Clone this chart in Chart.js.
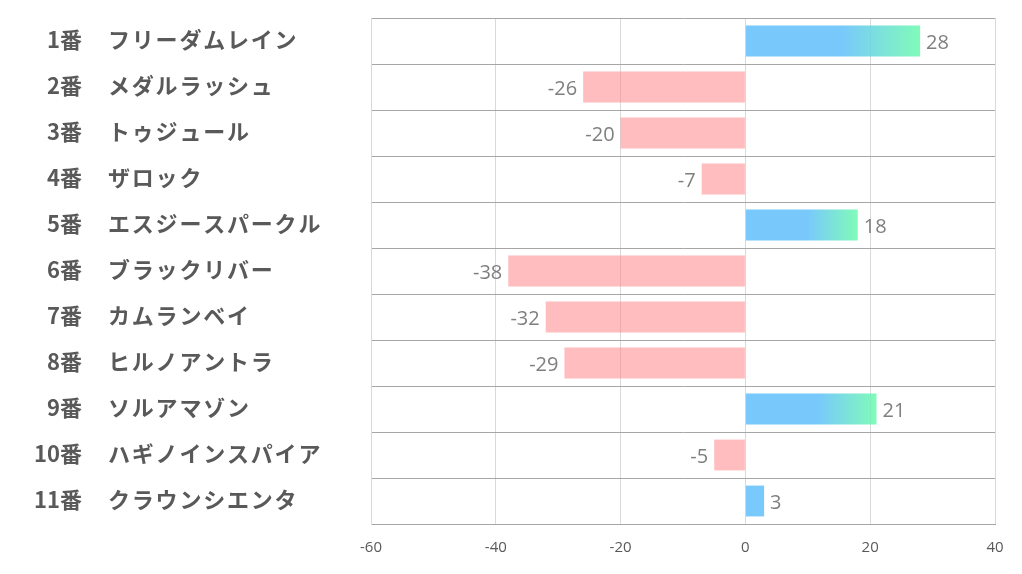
<!DOCTYPE html>
<html>
<head>
<meta charset="utf-8">
<script src="https://cdn.jsdelivr.net/npm/chart.js@4"></script>
<style>
  html, body { margin: 0; padding: 0; background: #fff; }
  #wrap { width: 1022px; height: 574px; position: relative; }
</style>
</head>
<body>
<div id="wrap"><canvas id="grafico"></canvas></div>
<script>
// 馬番と馬名
const numeros = ['1番', '2番', '3番', '4番', '5番', '6番', '7番', '8番', '9番', '10番', '11番'];
const nomes = ['フリーダムレイン', 'メダルラッシュ', 'トゥジュール', 'ザロック', 'エスジースパークル',
  'ブラックリバー', 'カムランベイ', 'ヒルノアントラ', 'ソルアマゾン', 'ハギノインスパイア', 'クラウンシエンタ'];
// 値
const valores = [28, -26, -20, -7, 18, -38, -32, -29, 21, -5, 3];
// 目盛り
const eixoMin = -60;
const eixoMax = 40;
const passo = 20;

const corTexto = '#595959';
const corValor = '#7f7f7f';

// 左側のラベル（番号は右寄せ、馬名は左寄せ）
const rotulosPlugin = {
  id: 'rotulos',
  afterDraw(chart) {
    const c = chart.ctx;
    const y = chart.scales.y;
    c.save();
    c.fillStyle = corTexto;
    c.font = 'bold 22px "Noto Sans CJK JP", sans-serif';
    c.textBaseline = 'middle';
    numeros.forEach((n, i) => {
      const py = y.getPixelForValue(i) - 1;
      c.letterSpacing = '0px';
      c.textAlign = 'right';
      c.fillText(n, 82, py);
      c.letterSpacing = '1.8px';
      c.textAlign = 'left';
      c.fillText(nomes[i], 108, py);
    });
    c.restore();
  },
  afterDatasetsDraw(chart) {
    // 値ラベル
    const c = chart.ctx;
    const meta = chart.getDatasetMeta(0);
    c.save();
    c.fillStyle = corValor;
    c.font = '20px "Open Sans", sans-serif';
    c.textBaseline = 'middle';
    meta.data.forEach((bar, i) => {
      const v = valores[i];
      if (v >= 0) {
        c.textAlign = 'left';
        c.fillText(String(v), bar.x + 6, bar.y + 2);
      } else {
        c.textAlign = 'right';
        c.fillText(String(v), bar.x - 6, bar.y + 2);
      }
    });
    c.restore();
  }
};

function corBarra(context) {
  const chart = context.chart;
  const v = valores[context.dataIndex];
  if (v < 0) return 'rgba(255,128,132,0.52)';
  const x = chart.scales.x;
  if (!x || !chart.chartArea) return 'rgba(97,191,251,0.85)';
  const x0 = x.getPixelForValue(0);
  const x1 = x.getPixelForValue(v);
  // 短いバーは単色
  if (x1 - x0 < 40) return 'rgba(97,191,251,0.85)';
  const g = chart.ctx.createLinearGradient(x0, 0, x1, 0);
  g.addColorStop(0, 'rgba(97,191,251,0.85)');
  g.addColorStop(0.55, 'rgba(97,191,251,0.85)');
  g.addColorStop(1, 'rgba(106,250,173,0.85)');
  return g;
}

const ctx = document.getElementById('grafico');

new Chart(ctx, {
  type: 'bar',
  data: {
    labels: nomes,
    datasets: [{
      data: valores,
      backgroundColor: corBarra,
      borderWidth: 0,
      barPercentage: 0.67,
      categoryPercentage: 1
    }]
  },
  options: {
    indexAxis: 'y',
    responsive: true,
    maintainAspectRatio: false,
    animation: false,
    events: [],
    layout: { padding: { top: 18, right: 27, left: 0, bottom: 0 } },
    plugins: {
      legend: { display: false },
      tooltip: { enabled: false }
    },
    scales: {
      x: {
        min: eixoMin,
        max: eixoMax,
        ticks: {
          stepSize: passo,
          color: corTexto,
          font: { family: '"Open Sans", sans-serif', size: 15 },
          padding: 15
        },
        grid: { color: '#d9d9d9', drawTicks: false },
        border: { color: '#a6a6a6' },
        afterFit(scale) { scale.height = 50; }
      },
      y: {
        ticks: { display: false },
        grid: { color: '#a6a6a6', drawTicks: false, offset: true },
        border: { color: '#d9d9d9' },
        afterFit(scale) { scale.width = 371; }
      }
    }
  },
  plugins: [rotulosPlugin]
});
</script>
</body>
</html>
